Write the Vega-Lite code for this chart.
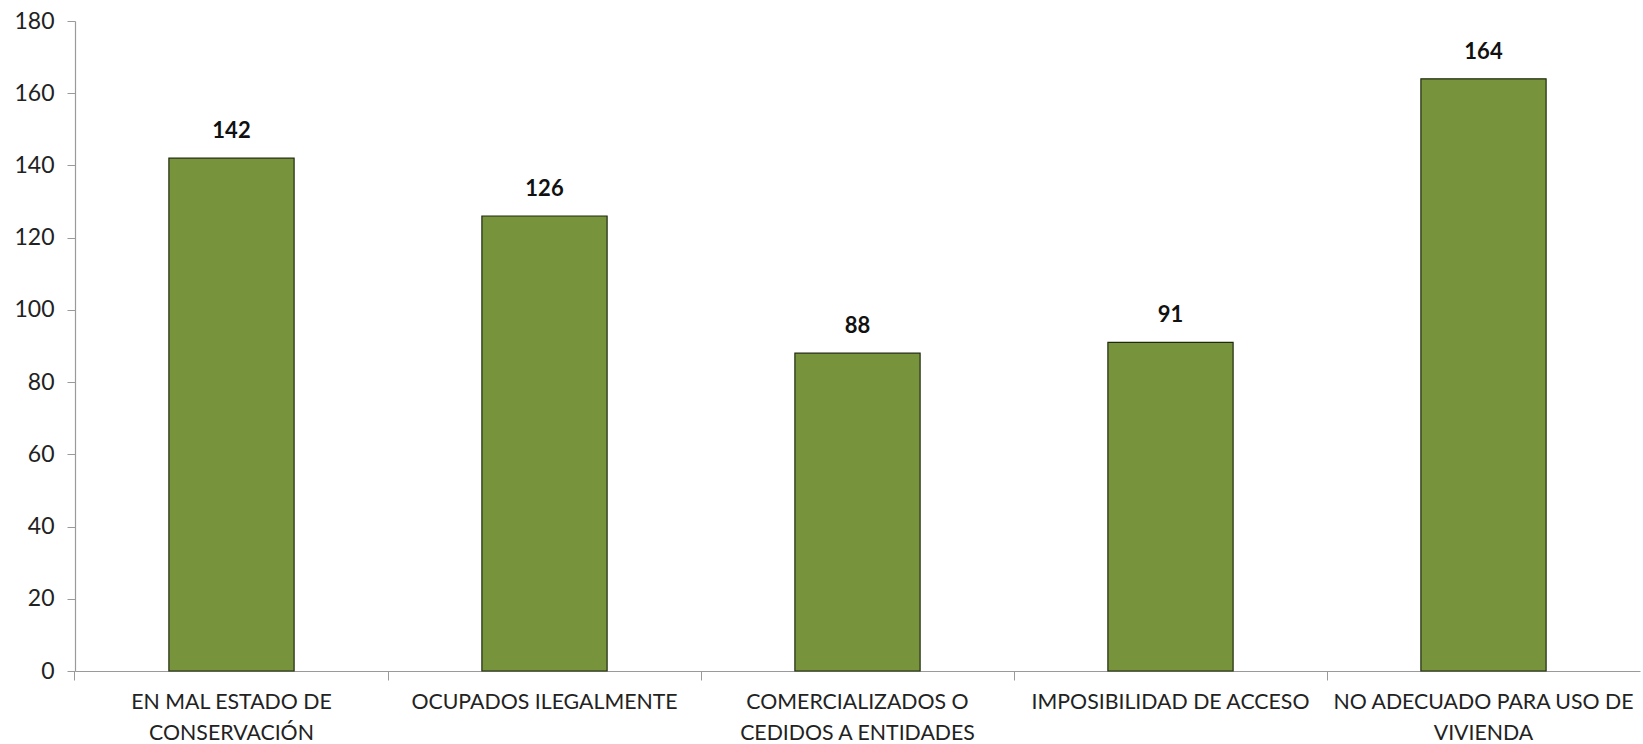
{
  "$schema": "https://vega.github.io/schema/vega-lite/v6.json",
  "width": 1565,
  "height": 650,
  "autosize": {"type": "none"},
  "padding": {"left": 75, "top": 21, "right": 3, "bottom": 73},
  "background": "white",
  "config": {"view": {"stroke": null}, "font": "Lato"},
  "data": {"values": [
    {"categoria": "EN MAL ESTADO DE|CONSERVACIÓN", "valor": 142},
    {"categoria": "OCUPADOS ILEGALMENTE", "valor": 126},
    {"categoria": "COMERCIALIZADOS O|CEDIDOS A ENTIDADES", "valor": 88},
    {"categoria": "IMPOSIBILIDAD DE ACCESO", "valor": 91},
    {"categoria": "NO ADECUADO PARA USO DE|VIVIENDA", "valor": 164}
  ]},
  "encoding": {
    "x": {
      "field": "categoria", "type": "nominal", "sort": null,
      "scale": {"paddingInner": 0.6, "paddingOuter": 0.3},
      "axis": {
        "title": null, "labelAngle": 0, "bandPosition": -0.75, "labelDx": 93.9,
        "labelExpr": "split(datum.label, '|')",
        "labelFont": "Lato", "labelFontSize": 21.3, "labelColor": "#222",
        "labelLineHeight": 31, "labelPadding": 11, "labelLimit": 400,
        "tickSize": 9, "tickColor": "#9a9a9a", "domainColor": "#9a9a9a", "domainWidth": 1.2,
        "labelBaseline": "top"
      }
    },
    "y": {
      "field": "valor", "type": "quantitative",
      "scale": {"domain": [0, 180]},
      "axis": {
        "title": null, "values": [0, 20, 40, 60, 80, 100, 120, 140, 160, 180],
        "grid": false, "labelFont": "Lato", "labelFontSize": 23, "labelColor": "#222",
        "tickSize": 8, "labelPadding": 13, "tickColor": "#9a9a9a", "domainColor": "#9a9a9a", "domainWidth": 1.2
      }
    }
  },
  "layer": [
    {"mark": {"type": "bar", "color": "#77933C", "stroke": "#1f2a0e", "strokeWidth": 1.2}},
    {"mark": {"type": "text", "dy": -20, "baseline": "alphabetic", "fontWeight": "bold", "fontSize": 22, "font": "Lato", "color": "#111"},
     "encoding": {"text": {"field": "valor", "type": "quantitative"}}}
  ]
}
